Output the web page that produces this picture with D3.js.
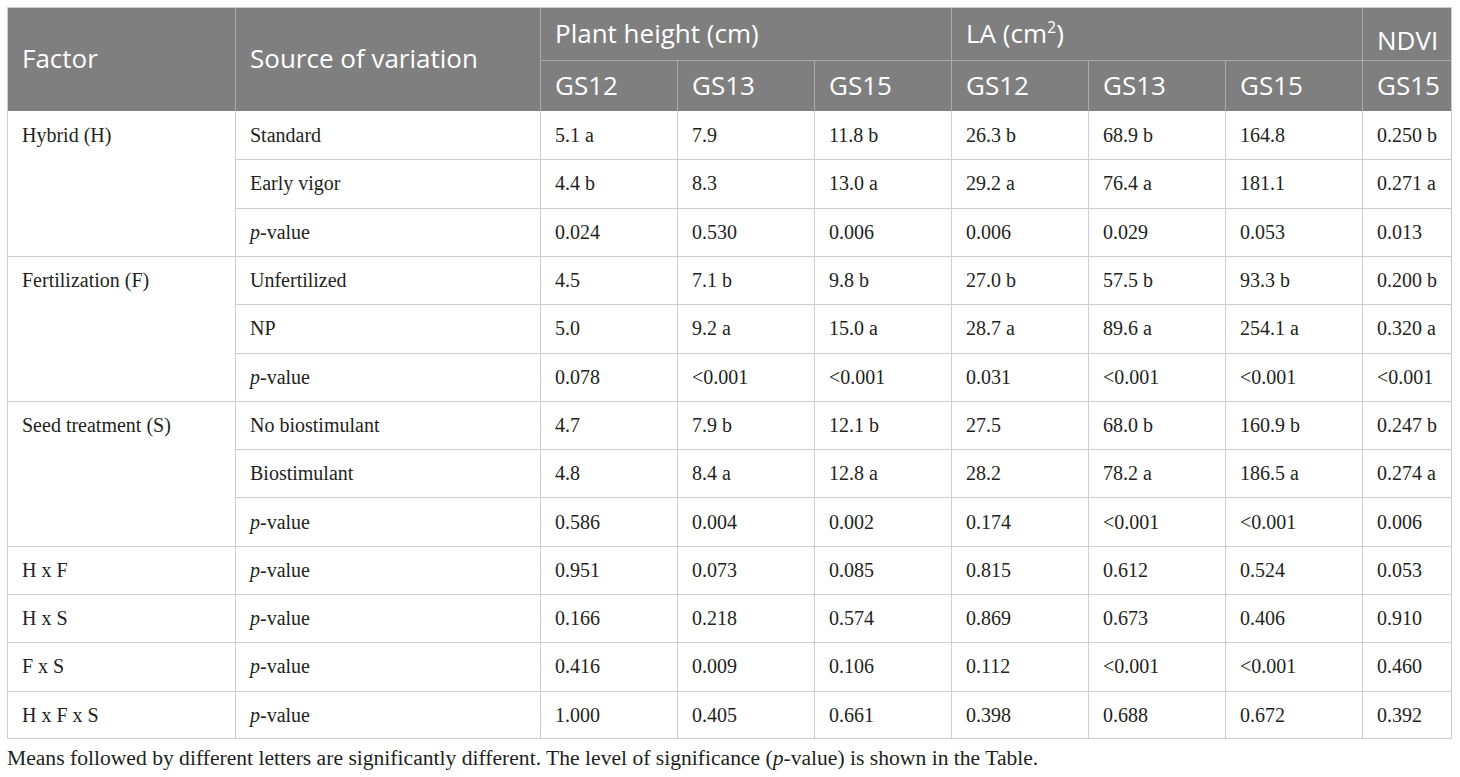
<!DOCTYPE html>
<html>
<head>
<meta charset="utf-8">
<script src="https://cdn.jsdelivr.net/npm/d3@7"></script>
<style>
  html, body { margin: 0; padding: 0; background: #fff; }
</style>
</head>
<body>
<div id="table"></div>
<script>
// table content
var factors = ['Hybrid (H)', 'Fertilization (F)', 'Seed treatment (S)', 'H x F', 'H x S', 'F x S', 'H x F x S'];
var factorSpans = [3, 3, 3, 1, 1, 1, 1];
var sources = ['Standard', 'Early vigor', 'p-value', 'Unfertilized', 'NP', 'p-value',
  'No biostimulant', 'Biostimulant', 'p-value', 'p-value', 'p-value', 'p-value', 'p-value'];
var groups = ['Plant height (cm)', 'LA (cm2)', 'NDVI'];
var groupSpans = [3, 3, 1];
var stages = ['GS12', 'GS13', 'GS15', 'GS12', 'GS13', 'GS15', 'GS15'];
var values = [
  ['5.1 a', '7.9', '11.8 b', '26.3 b', '68.9 b', '164.8', '0.250 b'],
  ['4.4 b', '8.3', '13.0 a', '29.2 a', '76.4 a', '181.1', '0.271 a'],
  ['0.024', '0.530', '0.006', '0.006', '0.029', '0.053', '0.013'],
  ['4.5', '7.1 b', '9.8 b', '27.0 b', '57.5 b', '93.3 b', '0.200 b'],
  ['5.0', '9.2 a', '15.0 a', '28.7 a', '89.6 a', '254.1 a', '0.320 a'],
  ['0.078', '<0.001', '<0.001', '0.031', '<0.001', '<0.001', '<0.001'],
  ['4.7', '7.9 b', '12.1 b', '27.5', '68.0 b', '160.9 b', '0.247 b'],
  ['4.8', '8.4 a', '12.8 a', '28.2', '78.2 a', '186.5 a', '0.274 a'],
  ['0.586', '0.004', '0.002', '0.174', '<0.001', '<0.001', '0.006'],
  ['0.951', '0.073', '0.085', '0.815', '0.612', '0.524', '0.053'],
  ['0.166', '0.218', '0.574', '0.869', '0.673', '0.406', '0.910'],
  ['0.416', '0.009', '0.106', '0.112', '<0.001', '<0.001', '0.460'],
  ['1.000', '0.405', '0.661', '0.398', '0.688', '0.672', '0.392']
];
var note = 'Means followed by different letters are significantly different. The level of significance (p-value) is shown in the Table.';

var width = 1460, height = 777;
var tLeft = 7, tTop = 7, headH1 = 53, headH2 = 51, rowH = 48.3;
var colWidths = [228, 305, 137, 137, 137, 137, 137, 137, 90];
var colEdges = [tLeft].concat(Array.from(d3.cumsum(colWidths), function(d) { return tLeft + d; }));
var tRight = colEdges[colEdges.length - 1];
var headBottom = tTop + headH1 + headH2;
var bodyBottom = headBottom + rowH * sources.length;

var headFill = '#7f7f7f', headLine = '#a9a9a9', gridLine = '#cdcdcd', textColor = '#231f20';
var sans = "'Open Sans', sans-serif", serif = "'Liberation Serif', 'Times New Roman', serif";

var x = function(i) { return colEdges[i]; };
var y = d3.scaleBand().domain(d3.range(sources.length)).range([headBottom, bodyBottom]);

var svg = d3.select('#table').append('svg').attr('width', width).attr('height', height);

// header background
svg.append('rect').attr('x', tLeft).attr('y', tTop).attr('width', tRight - tLeft).attr('height', headH1 + headH2).attr('fill', headFill);

// header lines
var hl = svg.append('g').attr('stroke', headLine).attr('stroke-width', 1);
hl.append('line').attr('x1', x(2)).attr('x2', tRight).attr('y1', tTop + headH1 + 0.5).attr('y2', tTop + headH1 + 0.5);
[1, 2, 5, 8].forEach(function(c) {
  hl.append('line').attr('x1', x(c) + 0.5).attr('x2', x(c) + 0.5).attr('y1', tTop).attr('y2', headBottom);
});
[3, 4, 6, 7].forEach(function(c) {
  hl.append('line').attr('x1', x(c) + 0.5).attr('x2', x(c) + 0.5).attr('y1', tTop + headH1).attr('y2', headBottom);
});

// header texts
var ht = svg.append('g').attr('font-family', sans).attr('font-size', 26).attr('fill', '#fff');
ht.append('text').attr('x', x(0) + 15).attr('y', tTop + (headH1 + headH2) / 2 + 9).text('Factor');
ht.append('text').attr('x', x(1) + 15).attr('y', tTop + (headH1 + headH2) / 2 + 9).text('Source of variation');
var gi = 2;
groups.forEach(function(g, k) {
  var t = ht.append('text').attr('x', x(gi) + 15).attr('y', tTop + headH1 / 2 + (k === 2 ? 16 : 9));
  if (g.indexOf('cm2') >= 0) {
    t.append('tspan').text('LA (cm');
    t.append('tspan').attr('font-size', 16).attr('dy', -10).text('2');
    t.append('tspan').attr('dy', 10).text(')');
  } else {
    t.text(g);
  }
  gi += groupSpans[k];
});
ht.selectAll('.stage').data(stages).enter().append('text').attr('class', 'stage')
  .attr('x', function(d, i) { return x(i + 2) + 15; })
  .attr('y', tTop + headH1 + headH2 / 2 + 9)
  .text(function(d) { return d; });

// body grid
var gl = svg.append('g').attr('stroke', gridLine).attr('stroke-width', 1).attr('fill', 'none');
var start = 0;
factorSpans.forEach(function(s) {
  start += s;
  if (start < sources.length) {
    gl.append('line').attr('x1', x(0)).attr('x2', tRight).attr('y1', Math.round(y(start)) + 0.5).attr('y2', Math.round(y(start)) + 0.5);
  }
});
d3.range(1, sources.length).forEach(function(r) {
  gl.append('line').attr('x1', x(1)).attr('x2', tRight).attr('y1', Math.round(y(r)) + 0.5).attr('y2', Math.round(y(r)) + 0.5);
});
d3.range(1, colEdges.length - 1).forEach(function(c) {
  gl.append('line').attr('x1', x(c) + 0.5).attr('x2', x(c) + 0.5).attr('y1', headBottom).attr('y2', bodyBottom);
});
gl.append('rect').attr('x', tLeft + 0.5).attr('y', tTop + 0.5).attr('width', tRight - tLeft - 1).attr('height', bodyBottom - tTop - 1);

// body texts
var bt = svg.append('g').attr('font-family', serif).attr('font-size', 20).attr('fill', textColor);
var r0 = 0;
factors.forEach(function(f, k) {
  bt.append('text').attr('x', x(0) + 15).attr('y', y(r0) + y.bandwidth() / 2 + 7).text(f);
  r0 += factorSpans[k];
});
function pText(sel, s) {
  if (s.indexOf('p-value') === 0) {
    sel.append('tspan').attr('font-style', 'italic').text('p');
    sel.append('tspan').text(s.slice(1));
  } else {
    sel.text(s);
  }
}
sources.forEach(function(s, r) {
  pText(bt.append('text').attr('x', x(1) + 15).attr('y', y(r) + y.bandwidth() / 2 + 7), s);
});
values.forEach(function(row, r) {
  bt.selectAll(null).data(row).enter().append('text')
    .attr('x', function(d, i) { return x(i + 2) + 15; })
    .attr('y', y(r) + y.bandwidth() / 2 + 7)
    .text(function(d) { return d; });
});

// footnote
var nt = svg.append('text').attr('x', tLeft).attr('y', bodyBottom + 26).attr('font-family', serif).attr('font-size', 21.6).attr('fill', textColor);
var cut = note.indexOf('(p-') + 1;
nt.append('tspan').text(note.slice(0, cut));
nt.append('tspan').attr('font-style', 'italic').text('p');
nt.append('tspan').text(note.slice(cut + 1));
</script>
</body>
</html>
